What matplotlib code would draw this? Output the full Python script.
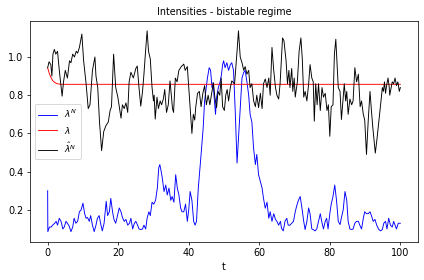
#!/usr/bin/env python
import numpy as np
import matplotlib
matplotlib.use('Agg')
import matplotlib.pyplot as plt


# lambda (deterministic limit), red
t_lam = [0.0, 0.5, 1.0, 1.5, 2.0, 2.5, 3.0, 3.5, 4.0, 5.0, 100.0]
lam = [0.944, 0.912, 0.89, 0.875, 0.867, 0.862, 0.859, 0.858, 0.857, 0.857,
       0.857]

# lambda^N, blue
t_lamN = [0.0, 0.05, 0.5, 1.0, 1.4, 2.0, 2.4, 2.8, 3.3, 3.8, 4.3, 4.7, 5.2,
          5.6, 6.1, 6.6, 7.1, 7.5, 8.0, 8.5, 9.0, 9.5, 10.0, 10.5, 10.9,
          11.3, 11.8, 12.2, 12.7, 13.2, 13.7, 14.1, 14.6, 15.0, 15.5, 16.0,
          16.6, 17.0, 17.5, 17.9, 18.4, 18.8, 19.3, 19.8, 20.3, 20.8, 21.2,
          21.7, 22.2, 22.7, 23.2, 23.6, 24.1, 24.6, 25.0, 25.5, 25.9, 26.4,
          26.9, 27.3, 27.8, 28.2, 28.7, 29.1, 29.6, 30.1, 30.6, 31.1, 31.5,
          31.8, 32.2, 32.5, 33.0, 33.5, 33.9, 34.4, 34.9, 35.3, 35.8, 36.3,
          36.8, 37.2, 37.7, 38.1, 38.6, 39.1, 39.6, 40.0, 40.4, 40.9, 41.4,
          41.8, 42.2, 42.7, 43.2, 43.5, 43.8, 44.1, 44.5, 45.3, 45.8, 46.2,
          46.6, 46.9, 47.2, 47.6, 47.9, 48.4, 48.9, 49.3, 49.6, 49.9, 50.3,
          50.8, 51.3, 51.8, 52.2, 52.7, 53.2, 53.7, 54.1, 54.6, 55.1, 55.6,
          56.0, 56.5, 57.0, 57.4, 57.9, 58.4, 58.9, 59.3, 59.8, 60.3, 60.8,
          61.2, 61.7, 62.2, 62.7, 63.1, 63.6, 64.1, 64.6, 65.0, 65.5, 66.0,
          66.3, 66.8, 67.3, 67.8, 68.2, 68.7, 69.2, 69.7, 70.2, 70.6, 71.1,
          71.6, 72.1, 72.6, 73.0, 73.5, 74.0, 74.4, 74.9, 75.3, 75.8, 76.3,
          76.8, 77.3, 77.7, 78.2, 78.7, 79.1, 79.5, 80.0, 80.4, 80.9, 81.4,
          81.9, 82.4, 82.9, 83.3, 83.8, 84.3, 84.8, 85.2, 85.7, 86.2, 86.6,
          87.1, 87.6, 88.1, 88.5, 89.0, 89.5, 89.9, 90.4, 90.9, 91.4, 91.8,
          92.3, 92.8, 93.3, 93.9, 94.4, 94.9, 95.3, 95.8, 96.2, 96.7, 97.2,
          97.7, 98.1, 98.5, 98.9, 99.4, 100.0]
lamN = [0.30, 0.086, 0.11, 0.11, 0.12, 0.13, 0.14, 0.12, 0.156, 0.14, 0.10,
        0.11, 0.14, 0.13, 0.115, 0.086, 0.11, 0.156, 0.13, 0.14, 0.19, 0.20,
        0.235, 0.18, 0.156, 0.16, 0.14, 0.17, 0.12, 0.086, 0.12, 0.156, 0.17,
        0.13, 0.09, 0.13, 0.245, 0.17, 0.19, 0.26, 0.19, 0.15, 0.13, 0.17,
        0.21, 0.19, 0.16, 0.14, 0.15, 0.12, 0.13, 0.156, 0.10, 0.13, 0.14,
        0.12, 0.10, 0.097, 0.10, 0.12, 0.10, 0.156, 0.19, 0.17, 0.24, 0.23,
        0.25, 0.314, 0.42, 0.437, 0.40, 0.367, 0.296, 0.33, 0.278, 0.314,
        0.25, 0.27, 0.24, 0.384, 0.31, 0.28, 0.21, 0.19, 0.19, 0.23, 0.14,
        0.20, 0.296, 0.25, 0.14, 0.12, 0.14, 0.31, 0.42, 0.49, 0.56, 0.63,
        0.77, 0.89, 0.944, 0.93, 0.84, 0.865, 0.79, 0.70, 0.79, 0.84, 0.87,
        0.91, 0.96, 0.98, 0.944, 0.97, 0.93, 0.96, 0.97, 0.93, 0.71, 0.445,
        0.57, 0.72, 0.89, 0.92, 0.93, 0.87, 0.80, 0.70, 0.66, 0.52, 0.437,
        0.49, 0.384, 0.35, 0.314, 0.26, 0.209, 0.24, 0.156, 0.19, 0.14, 0.18,
        0.15, 0.14, 0.12, 0.14, 0.104, 0.09, 0.14, 0.156, 0.12, 0.12, 0.13,
        0.14, 0.19, 0.22, 0.25, 0.27, 0.21, 0.14, 0.097, 0.14, 0.21, 0.18,
        0.10, 0.097, 0.09, 0.10, 0.14, 0.18, 0.14, 0.10, 0.14, 0.156, 0.10,
        0.18, 0.23, 0.27, 0.33, 0.25, 0.14, 0.123, 0.16, 0.20, 0.296, 0.25,
        0.14, 0.10, 0.097, 0.10, 0.13, 0.14, 0.14, 0.12, 0.10, 0.156, 0.19,
        0.18, 0.18, 0.19, 0.17, 0.14, 0.15, 0.12, 0.097, 0.09, 0.097, 0.13,
        0.14, 0.10, 0.156, 0.12, 0.11, 0.14, 0.12, 0.10, 0.13, 0.13]

# hat lambda^N, black
t_hat = [0.0, 0.4, 0.9, 1.2, 1.5, 1.9, 2.3, 2.8, 3.3, 3.7, 4.1, 4.5, 5.0,
         5.6, 6.2, 6.6, 7.1, 7.6, 8.1, 8.5, 9.0, 9.7, 10.2, 10.9, 11.5,
         12.0, 12.7, 13.4, 13.7, 14.2, 14.7, 15.3, 15.9, 16.5, 17.2, 17.7,
         18.1, 18.7, 19.3, 19.9, 20.8, 21.2, 21.7, 22.2, 22.7, 23.1, 23.6,
         24.3, 25.0, 25.4, 25.9, 26.4, 26.9, 27.3, 27.7, 28.2, 28.6, 29.1,
         29.6, 30.0, 30.2, 30.5, 31.0, 31.4, 31.9, 32.3, 32.8, 33.2, 33.7,
         34.2, 34.7, 35.1, 35.4, 35.7, 36.2, 36.7, 37.2, 37.9, 38.6, 39.0,
         39.6, 40.0, 40.5, 40.9, 41.3, 41.7, 42.0, 42.5, 43.0, 43.5, 44.0,
         44.5, 45.0, 45.5, 46.0, 46.5, 47.0, 47.4, 47.9, 48.3, 48.8, 49.2,
         49.6, 50.1, 50.5, 50.9, 51.3, 51.8, 52.2, 53.0, 53.7, 54.1, 54.6,
         55.1, 55.6, 56.0, 56.5, 57.0, 57.4, 57.9, 58.4, 58.9, 59.3, 59.8,
         60.3, 60.8, 61.2, 61.7, 62.2, 62.7, 63.1, 63.6, 64.1, 64.6, 65.0,
         65.5, 65.9, 66.6, 67.0, 67.6, 68.0, 68.4, 68.7, 69.2, 69.5, 69.9,
         70.2, 70.8, 71.3, 71.8, 72.2, 72.6, 73.0, 73.5, 74.0, 74.4, 74.9,
         75.3, 75.6, 76.0, 76.4, 76.8, 77.3, 77.8, 78.2, 78.7, 79.2, 79.6,
         80.0, 80.4, 80.9, 81.3, 81.7, 82.0, 82.4, 82.9, 83.3, 83.8, 84.1,
         84.5, 84.8, 85.2, 85.7, 86.2, 86.6, 87.1, 87.6, 88.1, 88.6, 89.0,
         89.5, 89.9, 90.4, 90.9, 91.4, 91.8, 92.2, 92.9, 93.4, 93.9, 94.4,
         94.9, 95.2, 95.5, 95.8, 96.1, 96.5, 96.8, 97.0, 97.4, 97.7, 98.1,
         98.5, 98.9, 99.3, 99.7, 100.0]
hat = [0.944, 0.975, 0.96, 0.90, 1.015, 1.04, 1.015, 1.03, 0.93, 0.86,
       0.795, 0.87, 0.93, 0.89, 0.98, 0.97, 1.015, 1.00, 1.03, 1.02, 1.05,
       1.12, 0.98, 0.86, 0.73, 0.75, 0.93, 1.00, 0.90, 0.84, 0.66, 0.51,
       0.61, 0.64, 0.66, 0.72, 0.74, 1.015, 0.84, 0.79, 0.68, 0.75, 0.73,
       0.76, 0.71, 0.87, 0.92, 0.89, 0.94, 0.953, 0.84, 0.743, 0.82, 0.91,
       1.015, 1.137, 1.03, 0.99, 0.84, 0.77, 0.80, 0.675, 0.79, 0.73, 0.77,
       0.75, 0.78, 0.83, 0.71, 0.75, 0.875, 0.79, 0.73, 0.71, 0.89, 0.87,
       0.93, 0.95, 0.963, 0.93, 0.95, 0.84, 0.70, 0.60, 0.70, 0.67, 0.74,
       0.81, 0.82, 0.74, 0.81, 0.85, 0.75, 0.80, 0.75, 0.81, 0.865, 0.79,
       0.735, 0.82, 0.80, 0.89, 0.74, 0.72, 0.80, 0.83, 0.77, 0.84, 0.875,
       0.86, 1.03, 1.137, 1.0, 0.97, 0.93, 0.95, 0.91, 0.93, 0.84, 0.86,
       0.77, 0.74, 0.80, 0.735, 0.81, 0.73, 0.86, 0.885, 0.84, 0.89, 0.80,
       1.05, 0.93, 0.84, 0.80, 0.78, 0.86, 1.10, 1.085, 0.98, 0.86, 0.93,
       0.84, 0.94, 0.82, 0.89, 0.79, 0.87, 1.03, 1.10, 0.99, 0.79, 0.82,
       0.77, 0.86, 0.96, 0.89, 0.87, 0.664, 0.86, 0.75, 0.86, 0.72, 0.84,
       0.79, 0.81, 0.72, 0.75, 0.585, 0.74, 0.75, 1.014, 1.093, 0.98, 0.84,
       0.82, 0.673, 0.79, 0.86, 0.77, 0.82, 0.70, 0.78, 0.75, 0.77, 0.944,
       0.87, 0.91, 0.74, 0.77, 0.70, 0.67, 0.49, 0.67, 0.82, 0.72, 0.63,
       0.497, 0.575, 0.66, 0.75, 0.84, 0.82, 0.87, 0.81, 0.85, 0.89, 0.85,
       0.80, 0.84, 0.87, 0.86, 0.89, 0.85, 0.87, 0.82, 0.84]

# Figure
dpi = 66
fig = plt.figure(figsize=(424 / dpi, 280 / dpi), dpi=dpi)
ax = fig.add_axes([0.0708, 0.1368, 0.915, 0.789])

ax.plot(t_lamN, lamN, color='blue', lw=1.0, label=r'$\lambda^N$')
ax.plot(t_lam, lam, color='red', lw=1.0, label=r'$\lambda$')
ax.plot(t_hat, hat, color='black', lw=1.0, label=r'$\hat{\lambda}^N$')

ax.set_yticks([0.2, 0.4, 0.6, 0.8, 1.0])
ax.set_xticks([0, 20, 40, 60, 80, 100])
ax.tick_params(labelsize=10.5)
ax.set_xlabel('t', fontsize=10.5)
ax.set_title('Intensities - bistable regime', fontsize=10.5)
ax.legend(loc='center left')

fig.savefig('out.png', dpi=dpi)
